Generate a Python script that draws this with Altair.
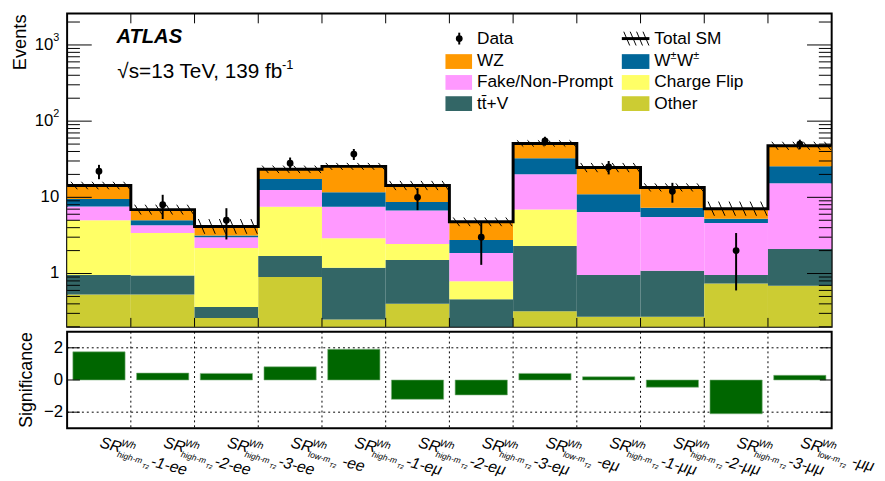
import altair as alt
import pandas as pd
import numpy as np

FONT = "Liberation Sans"

# ---------------- data ----------------
sub_labels = ["high-m", "high-m", "high-m", "low-m", "high-m", "high-m",
              "high-m", "low-m", "high-m", "high-m", "high-m", "low-m"]
suffixes = ["-1-ee", "-2-ee", "-3-ee", "-ee", "-1-eμ", "-2-eμ",
            "-3-eμ", "-eμ", "-1-μμ", "-2-μμ", "-3-μμ", "-μμ"]

processes = ["Other", "tt̄+V", "Charge Flip", "Fake/Non-Prompt", "W±W±", "WZ"]
colors = ["#cccc33", "#336666", "#ffff66", "#ff99ff", "#006699", "#ff9900"]

other  = [0.53, 0.53, 0.26, 0.90, 0.25, 0.40, 0.19, 0.32, 0.27, 0.27, 0.74, 0.69]
ttv    = [0.43, 0.41, 0.105, 0.80, 0.94, 1.10, 0.27, 1.98, 0.69, 0.82, 0.22, 1.41]
chflip = [4.04, 2.46, 1.795, 5.80, 1.71, 0.95, 0.33, 4.60, 0.0, 0.0, 0.0, 0.0]
fake   = [2.60, 0.90, 0.84, 5.00, 4.60, 4.25, 1.07, 13.2, 5.44, 4.41, 3.64, 13.2]
ww     = [1.90, 0.70, 0.15, 4.90, 4.20, 2.00, 0.90, 12.6, 4.60, 1.80, 0.65, 10.2]
wz     = [4.80, 1.90, 1.00, 5.90, 13.8, 5.60, 2.01, 18.3, 13.6, 6.20, 1.85, 22.0]

data_obs = [22, 8, 5, 28, 37, 10, 3, 55, 25, 12, 2, 50]
data_err = [4.7, 2.8, 2.2, 5.3, 6.1, 3.2, 1.7, 7.4, 5.0, 3.5, 1.4, 7.1]
sm_unc = [0.12, 0.16, 0.25, 0.12, 0.11, 0.15, 0.14, 0.10, 0.15, 0.13, 0.24, 0.13]
significance = [1.75, 0.43, 0.41, 0.82, 1.91, -1.20, -0.93, 0.41, 0.20, -0.45, -2.10, 0.29]

# axis tick labels
ylab_values = [1, 10, 100, 1000]
ylab_base = ["1", "10", "10", "10"]
ylab_sup = ["", "", "2", "3"]
slab_values = [-2, 0, 2]
slab_text = ["−2", "0", "2"]

# ---------------- layout ----------------
W = 776
H_TOP = 318
H_BOT = 98
NB = len(data_obs)
YMIN, YMAX = 0.2, 2590

xscale = alt.Scale(domain=[0, NB], nice=False, zero=False)
yscale = alt.Scale(type="log", domain=[YMIN, YMAX], nice=False)
sscale = alt.Scale(domain=[-3, 3], nice=False, zero=False)


def X(f):
    return alt.X(f, scale=xscale, axis=None)


def Y(f):
    return alt.Y(f, scale=yscale, axis=None)


def S(f):
    return alt.Y(f, scale=sscale, axis=None)


# ---------------- tables ----------------
comps = [other, ttv, chflip, fake, ww, wz]
rows = []
totals = []
for i in range(NB):
    cum = 0.0
    prev = 0.1
    for p, vals in zip(processes, comps):
        cum += vals[i]
        rows.append({"x0": i, "x1": i + 1, "lo": prev, "hi": cum, "proc": p})
        prev = cum
    totals.append(cum)
df_stack = pd.DataFrame(rows)

df_total = pd.DataFrame({"x": list(range(NB + 1)), "y": totals + [totals[-1]]})

hatch_rows = []
for i in range(NB):
    for k in range(6):
        off = 0.06 + 0.165 * k
        hatch_rows.append({"hx": i + off, "hx2": i + off + 0.1,
                           "hy": totals[i] * (1 + sm_unc[i]),
                           "hy2": totals[i] / (1 + sm_unc[i])})
df_hatch = pd.DataFrame(hatch_rows)

df_data = pd.DataFrame({
    "xc": [i + 0.5 for i in range(NB)],
    "y": data_obs,
    "lo": [d - e for d, e in zip(data_obs, data_err)],
    "hi": [d + e for d, e in zip(data_obs, data_err)],
})

major = [1.0, 10.0, 100.0, 1000.0]
minor = []
for dec in [0.1, 1, 10, 100, 1000]:
    for m in range(2, 10):
        v = m * dec
        if YMIN <= v <= YMAX:
            minor.append(v)
df_major = pd.DataFrame({"v": major})
df_minor = pd.DataFrame({"v": minor})
df_edges = pd.DataFrame({"e": list(range(1, NB))})

df_ylab = pd.DataFrame({"v": ylab_values, "base": ylab_base, "sup": ylab_sup})
df_slab = pd.DataFrame({"v": slab_values, "t": slab_text})

df_sig = pd.DataFrame({
    "x0": [i + 0.09 for i in range(NB)],
    "x1": [i + 0.91 for i in range(NB)],
    "z": [0.0] * NB,
    "s": significance,
})
df_lab = pd.DataFrame({
    "xc": [i + 0.5 for i in range(NB)],
    "sub": sub_labels,
    "suf": suffixes,
})
one = pd.DataFrame({"a": [0]})

# ---------------- top panel ----------------
bars = alt.Chart(df_stack).mark_rect(clip=True).encode(
    x=X("x0:Q"), x2="x1:Q",
    y=Y("lo:Q"), y2="hi:Q",
    color=alt.Color("proc:N", scale=alt.Scale(domain=processes, range=colors), legend=None),
)

total_line = alt.Chart(df_total).mark_line(
    interpolate="step-after", color="black", strokeWidth=3
).encode(x=X("x:Q"), y=Y("y:Q"))

hatch = alt.Chart(df_hatch).mark_rule(color="black", strokeWidth=1).encode(
    x=X("hx:Q"), x2="hx2:Q", y=Y("hy:Q"), y2="hy2:Q",
)

errbars = alt.Chart(df_data).mark_rule(color="black", strokeWidth=2).encode(
    x=X("xc:Q"), y=Y("lo:Q"), y2="hi:Q"
)
points = alt.Chart(df_data).mark_circle(color="black", opacity=1, size=48).encode(
    x=X("xc:Q"), y=Y("y:Q")
)

tick_layers = []
for df_t, ln in [(df_major, 25), (df_minor, 13)]:
    tick_layers.append(alt.Chart(df_t).mark_rule(color="black", strokeWidth=1).encode(
        y=Y("v:Q"), x=alt.value(0), x2=alt.value(ln)))
    tick_layers.append(alt.Chart(df_t).mark_rule(color="black", strokeWidth=1).encode(
        y=Y("v:Q"), x=alt.value(W - ln), x2=alt.value(W)))
tick_layers.append(alt.Chart(df_edges).mark_rule(color="black", strokeWidth=1).encode(
    x=X("e:Q"), y=alt.value(0), y2=alt.value(10)))
tick_layers.append(alt.Chart(df_edges).mark_rule(color="black", strokeWidth=1).encode(
    x=X("e:Q"), y=alt.value(H_TOP - 9), y2=alt.value(H_TOP)))

# y tick labels (top)
ylabels = [
    alt.Chart(df_ylab[df_ylab["sup"] == ""]).mark_text(
        font=FONT, fontSize=17, color="black", align="right", baseline="middle"
    ).encode(y=Y("v:Q"), x=alt.value(-8), text="base:N"),
    alt.Chart(df_ylab[df_ylab["sup"] != ""]).mark_text(
        font=FONT, fontSize=17, color="black", align="right", baseline="middle"
    ).encode(y=Y("v:Q"), x=alt.value(-14), text="base:N"),
    alt.Chart(df_ylab[df_ylab["sup"] != ""]).mark_text(
        font=FONT, fontSize=11, color="black", align="left", baseline="middle", dy=-7
    ).encode(y=Y("v:Q"), x=alt.value(-14), text="sup:N"),
]


def txt(s, x, y, size, **kw):
    align = kw.pop("align", "left")
    baseline = kw.pop("baseline", "alphabetic")
    return alt.Chart(one).mark_text(
        text=s, font=FONT, fontSize=size, color="black", align=align,
        baseline=baseline, **kw
    ).encode(x=alt.value(x), y=alt.value(y))


texts = [
    txt("ATLAS", 50, 30, 20.5, fontWeight="bold", fontStyle="italic"),
    txt("√s=13 TeV, 139 fb", 51, 66, 21),
    txt("-1", 218, 56, 13),
    txt("Events", -42, 1, 18.5, angle=270, align="right"),
]

# legend
leg = []
row_y = [25.5, 48.8, 70.0, 91.5]
LBX0, LBX1, LTX = 384, 411, 416
RBX0, RBX1, RTX = 563, 591, 596


def box(x0, x1, cy, col):
    return alt.Chart(one).mark_rect(color=col).encode(
        x=alt.value(x0), x2=alt.value(x1), y=alt.value(cy - 7.5), y2=alt.value(cy + 7.5))


col_of = dict(zip(processes, colors))
leg.append(alt.Chart(one).mark_rule(color="black", strokeWidth=2).encode(
    x=alt.value(398), y=alt.value(row_y[0] - 6), y2=alt.value(row_y[0] + 6)))
leg.append(alt.Chart(one).mark_circle(color="black", opacity=1, size=48).encode(
    x=alt.value(398), y=alt.value(row_y[0])))
leg.append(txt("Data", LTX, row_y[0], 17.5, baseline="middle"))
leg.append(alt.Chart(one).mark_rule(color="black", strokeWidth=3).encode(
    x=alt.value(RBX0), x2=alt.value(RBX1), y=alt.value(row_y[0])))
for hx in [565, 571.5, 578, 584.5]:
    leg.append(alt.Chart(one).mark_rule(color="black", strokeWidth=1).encode(
        x=alt.value(hx), x2=alt.value(hx + 6), y=alt.value(row_y[0] - 7), y2=alt.value(row_y[0] + 7)))
leg.append(txt("Total SM", RTX, row_y[0], 17.5, baseline="middle"))
for name, r, side in [("WZ", 1, "L"), ("Fake/Non-Prompt", 2, "L"), ("tt̄+V", 3, "L"),
                      ("W±W±", 1, "R"), ("Charge Flip", 2, "R"), ("Other", 3, "R")]:
    cy = row_y[r]
    if side == "L":
        leg.append(box(LBX0, LBX1, cy, col_of[name]))
        leg.append(txt(name, LTX, cy, 17.5, baseline="middle"))
    else:
        leg.append(box(RBX0, RBX1, cy, col_of[name]))
        if name == "W±W±":
            leg.append(txt("W", RTX, cy, 17.5, baseline="middle"))
            leg.append(txt("±", RTX + 16.5, cy - 6, 11, baseline="middle"))
            leg.append(txt("W", RTX + 23, cy, 17.5, baseline="middle"))
            leg.append(txt("±", RTX + 39.5, cy - 6, 11, baseline="middle"))
        else:
            leg.append(txt(name, RTX, cy, 17.5, baseline="middle"))

top = alt.layer(bars, total_line, hatch, errbars, points, *tick_layers, *ylabels,
                *texts, *leg).properties(width=W, height=H_TOP)

# ---------------- bottom panel ----------------
sig_bars = alt.Chart(df_sig).mark_rect(color="#006600", stroke="#7fb27f", strokeWidth=0.6).encode(
    x=X("x0:Q"), x2="x1:Q", y=S("z:Q"), y2="s:Q",
)
vgrid = alt.Chart(df_edges).mark_rule(color="black", strokeWidth=1, strokeDash=[2, 3]).encode(
    x=X("e:Q"), y=alt.value(0), y2=alt.value(H_BOT))
hgrid = alt.Chart(pd.DataFrame({"g": [-2, 2]})).mark_rule(
    color="black", strokeWidth=1, strokeDash=[2, 3]).encode(
    y=S("g:Q"), x=alt.value(0), x2=alt.value(W))
df_st = pd.DataFrame({"g": [-2, 0, 2]})
sticks = [
    alt.Chart(df_st).mark_rule(color="black", strokeWidth=1).encode(
        y=S("g:Q"), x=alt.value(0), x2=alt.value(13)),
    alt.Chart(df_st).mark_rule(color="black", strokeWidth=1).encode(
        y=S("g:Q"), x=alt.value(W - 12), x2=alt.value(W)),
]
slabels = alt.Chart(df_slab).mark_text(
    font=FONT, fontSize=17, color="black", align="right", baseline="middle"
).encode(y=S("v:Q"), x=alt.value(-4), text="t:N")
stitle = txt("Significance", -36, H_BOT / 2, 18, angle=270, align="center")

ANG = 15
LY = H_BOT + 19


def lab_const(s, dx, dy, size, dfl=df_lab):
    return alt.Chart(dfl).mark_text(
        text=s, font=FONT, fontSize=size, fontStyle="italic", color="black", align="left",
        baseline="alphabetic", angle=ANG, dx=dx, dy=dy).encode(
        x=X("xc:Q"), y=alt.value(LY))


def lab_field(f, dx, dy, size):
    return alt.Chart(df_lab).mark_text(
        font=FONT, fontSize=size, fontStyle="italic", color="black", align="left",
        baseline="alphabetic", angle=ANG, dx=dx, dy=dy).encode(
        x=X("xc:Q"), y=alt.value(LY), text=alt.Text(f + ":N"))


xlabels = [
    lab_const("SR", 0, 0, 16),
    lab_const("Wh", 21, -7, 10),
    lab_field("sub", 20, 5, 8.5),
    lab_field("suf", 55, 5, 16),
    lab_const("T2", 47, 9, 6, df_lab[df_lab["sub"] == "high-m"]),
    lab_const("T2", 43, 9, 6, df_lab[df_lab["sub"] == "low-m"]),
]

bottom = alt.layer(vgrid, hgrid, sig_bars, *sticks, slabels, stitle, *xlabels).properties(
    width=W, height=H_BOT)

chart = alt.vconcat(top, bottom, spacing=1).properties(
    padding={"left": 2, "top": 0, "right": 0, "bottom": 0},
    background="white",
).configure_view(stroke="black", strokeWidth=2)

chart.save("out.html", embed_options={"renderer": "svg", "actions": False})
